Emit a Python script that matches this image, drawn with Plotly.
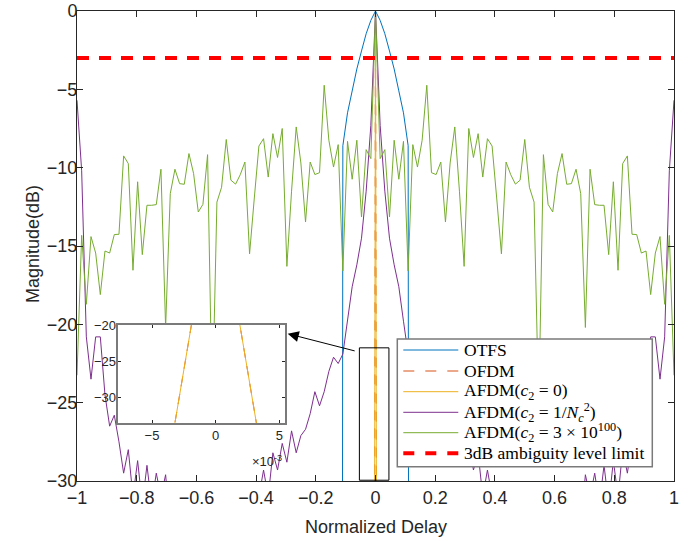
import plotly.graph_objects as go

# ---------------- data ----------------
delay_index = list(range(-64, 65))
N_HALF = 64
delay = [k / N_HALF for k in delay_index]

otfs_index = list(range(-8, 9))
otfs_db = [-300, -8.6, -6.5, -5.1, -3.7, -2.55, -1.45, -0.6, 0.0,
           -0.6, -1.45, -2.55, -3.7, -5.1, -6.5, -8.6, -300]

narrow_index = [-1, 0, 1]
ofdm_db = [-164.0, 0.0, -164.0]
afdm0_db = [-164.0, 0.0, -164.0]

afdm_nc_db = [
    -5.7, -10.2, -20.8, -23.5, -20.8, -20.8, -24.5, -26.5, -25.8, -27.5,
    -29.5, -28.0, -31.0, -28.7, -31.5, -29.0, -31.5, -29.5, -31.0, -29.6,
    -33.0, -35.0, -32.0, -34.0, -31.5, -33.0, -36.0, -33.0, -31.0, -34.0,
    -32.0, -35.0, -31.0, -33.0, -35.0, -31.5, -33.0, -32.0, -34.0, -31.0,
    -29.3, -31.0, -28.2, -29.3, -27.6, -28.8, -26.8, -28.2, -27.1, -26.7,
    -25.7, -24.3, -25.2, -24.3, -23.0, -22.1, -22.5, -21.9, -19.8, -17.6,
    -16.2, -14.5, -11.5, -7.3,
    0.0,
    -7.3, -11.5, -14.5, -16.2, -17.6, -19.8, -21.9, -22.5, -22.1, -23.0,
    -24.3, -25.2, -24.3, -25.7, -26.7, -27.1, -28.2, -26.8, -28.8, -27.6,
    -29.3, -28.2, -31.0, -29.3, -31.0, -34.0, -32.0, -33.0, -31.5, -35.0,
    -33.0, -31.0, -35.0, -32.0, -34.0, -31.0, -33.0, -36.0, -33.0, -31.5,
    -34.0, -32.0, -35.0, -33.0, -29.6, -31.0, -29.5, -31.5, -29.0, -31.5,
    -28.7, -31.0, -28.0, -29.5, -27.5, -25.8, -26.5, -24.5, -20.8, -20.8,
    -23.5, -20.8, -10.2, -5.7]

afdm_big_db = [
    -23.25, -14.32, -18.72, -14.4, -15.45, -18.1, -15.32, -15.45, -14.27, -14.25,
    -9.25, -9.74, -16.55, -10.9, -15.55, -12.4, -12.4, -12.36, -10.1, -20.2,
    -11.66, -10.1, -11.02, -11.06, -9.1, -10.38, -12.83, -12.34, -9.17, -25.5,
    -12.2, -11.25, -8.2, -10.8, -11.05, -10.45, -9.64, -15.5, -12.0, -8.62,
    -8.15, -10.6, -7.83, -9.35, -7.5, -16.3, -11.5, -7.4, -9.7, -13.47,
    -9.64, -10.44, -10.32, -4.74, -8.25, -9.96, -8.53, -16.59, -8.32, -10.74,
    -8.25, -13.15, -8.85, -9.42,
    0.0,
    -9.42, -8.85, -13.15, -8.25, -10.74, -8.32, -16.59, -8.53, -9.96, -8.25,
    -4.74, -10.32, -10.44, -9.64, -13.47, -9.7, -7.4, -11.5, -16.3, -7.5,
    -9.35, -7.83, -10.6, -8.15, -8.62, -12.0, -15.5, -9.64, -10.45, -11.05,
    -10.8, -8.2, -11.25, -12.2, -25.5, -9.17, -12.34, -12.83, -10.38, -9.1,
    -11.06, -11.02, -10.1, -11.66, -20.2, -10.1, -12.36, -12.4, -12.4, -15.55,
    -10.9, -16.55, -9.74, -9.25, -14.25, -14.27, -15.45, -15.32, -18.1, -15.45,
    -14.4, -18.72, -14.32, -23.25]

limit_x = [-1.0, 1.0]
limit_db = [-3.0, -3.0]

x_ticks = [-1, -0.8, -0.6, -0.4, -0.2, 0, 0.2, 0.4, 0.6, 0.8, 1]
x_tick_text = ["\u22121", "\u22120.8", "\u22120.6", "\u22120.4", "\u22120.2", "0",
               "0.2", "0.4", "0.6", "0.8", "1"]
y_ticks = [-30, -25, -20, -15, -10, -5, 0]
y_tick_text = ["\u221230", "\u221225", "\u221220", "\u221215", "\u221210", "\u22125", "0"]
inset_x_ticks = [-0.005, 0, 0.005]
inset_x_text = ["\u22125", "0", "5"]
inset_y_ticks = [-30, -25, -20]
inset_y_text = ["\u221230", "\u221225", "\u221220"]

legend_names = ["OTFS", "OFDM", "AFDM(<i>c</i><sub>2</sub> = 0)",
                "AFDM(<i>c</i><sub>2</sub> = 1/<i>N</i><sub><i>c</i></sub><sup>2</sup>)",
                "AFDM(<i>c</i><sub>2</sub> = 3 \u00d7 10<sup>100</sup>)",
                "3dB ambiguity level limit"]

C_OTFS = "#0072BD"
C_OFDM = "#D95319"
C_AF0 = "#EDB120"
C_AFN = "#7E2F8E"
C_AFB = "#77AC30"
C_LIM = "#FF0000"

# ---------------- geometry ----------------
W, H = 700, 541
# plot area in window pixels: x 77..674, y 11..481
ML, MT = 77, 11
MR = W - 674
MB = H - 481
PW, PH = W - ML - MR, H - MT - MB


def px2x(px):
    return (px - ML) / PW


def py2y(py):
    return (MT + PH - py) / PH


def scale(idx):
    return [k / N_HALF for k in idx]


fig = go.Figure()
fig.add_trace(go.Scatter(x=scale(otfs_index), y=otfs_db, mode="lines",
                         line=dict(color=C_OTFS, width=1)))
fig.add_trace(go.Scatter(x=scale(narrow_index), y=ofdm_db, mode="lines",
                         line=dict(color=C_OFDM, width=1, dash="10px,8px")))
fig.add_trace(go.Scatter(x=scale(narrow_index), y=afdm0_db, mode="lines",
                         line=dict(color=C_AF0, width=1)))
fig.add_trace(go.Scatter(x=delay, y=afdm_nc_db, mode="lines",
                         line=dict(color=C_AFN, width=1)))
fig.add_trace(go.Scatter(x=delay, y=afdm_big_db, mode="lines",
                         line=dict(color=C_AFB, width=1)))
fig.add_trace(go.Scatter(x=limit_x, y=limit_db, mode="lines",
                         line=dict(color=C_LIM, width=4, dash="12px,10px")))

# inset
fig.add_trace(go.Scatter(x=scale(narrow_index), y=ofdm_db, mode="lines",
                         xaxis="x2", yaxis="y2",
                         line=dict(color=C_OFDM, width=1, dash="10px,8px")))
fig.add_trace(go.Scatter(x=scale(narrow_index), y=afdm0_db, mode="lines",
                         xaxis="x2", yaxis="y2",
                         line=dict(color=C_AF0, width=1)))

axis_font = dict(family="Liberation Sans, Arial, sans-serif", size=18, color="#262626")
small_font = dict(family="Liberation Sans, Arial, sans-serif", size=13, color="#262626")

fig.update_layout(
    width=W, height=H, margin=dict(l=ML, r=MR, t=MT, b=MB, autoexpand=False),
    paper_bgcolor="white", plot_bgcolor="white", showlegend=False,
    xaxis=dict(range=[-1, 1], tickvals=x_ticks, ticktext=x_tick_text, ticks="inside",
               ticklen=6, tickcolor="#262626", showline=True, linecolor="#262626",
               linewidth=1, mirror="ticks", showgrid=False, zeroline=False,
               tickfont=axis_font, tickangle=0, automargin=False,
               ticklabeloverflow="allow"),
    yaxis=dict(range=[-30, 0], tickvals=y_ticks, ticktext=y_tick_text, ticks="inside",
               ticklen=6, tickcolor="#262626", showline=True, linecolor="#262626",
               linewidth=1, mirror="ticks", showgrid=False, zeroline=False,
               tickfont=axis_font, automargin=False, ticklabeloverflow="allow"),
    xaxis2=dict(domain=[px2x(118.3), px2x(285)], anchor="y2",
                range=[-0.00765, 0.00545], tickvals=inset_x_ticks, ticktext=inset_x_text,
                ticks="inside", ticklen=3, tickcolor="#262626", showline=True,
                linecolor="#7a7a7a", linewidth=1.5, mirror="ticks", showgrid=False,
                zeroline=False, tickfont=small_font, tickangle=0, automargin=False,
                ticklabeloverflow="allow"),
    yaxis2=dict(domain=[py2y(423), py2y(325)], anchor="x2",
                range=[-33.6, -20], tickvals=inset_y_ticks, ticktext=inset_y_text,
                ticks="inside", ticklen=3, tickcolor="#262626", showline=True,
                linecolor="#7a7a7a", linewidth=1.5, mirror="ticks", showgrid=False,
                zeroline=False, tickfont=small_font, automargin=False,
                ticklabeloverflow="allow"),
)
try:
    fig.update_layout(yaxis_ticklabelstandoff=-5, yaxis2_ticklabelstandoff=-2)
except Exception:
    pass

shapes = []
annotations = []

# zoom rectangle around the main lobe
shapes.append(dict(type="rect", xref="x", yref="y", x0=-0.054, x1=0.045,
                   y0=-29.95, y1=-21.5, line=dict(color="black", width=1),
                   fillcolor="rgba(0,0,0,0)", layer="above"))
# arrow
annotations.append(dict(xref="x", yref="y", axref="x", ayref="y",
                        x=-0.294, y=-20.6, ax=-0.0648, ay=-21.72, text="",
                        showarrow=True, arrowhead=2, arrowsize=2.2, arrowwidth=1,
                        arrowcolor="black", standoff=0, startstandoff=0))

# legend box
LX0, LX1, LY0, LY1 = 397.3, 652.3, 339, 466.7
shapes.append(dict(type="rect", xref="paper", yref="paper",
                   x0=px2x(LX0), x1=px2x(LX1), y0=py2y(LY1), y1=py2y(LY0),
                   line=dict(color="#7a7a7a", width=1.5), fillcolor="white",
                   layer="above"))
row_py = [350, 371, 391.7, 412.3, 432.7, 453.3]
styles = [dict(color=C_OTFS, width=1), dict(color=C_OFDM, width=1.2, dash="11px,11px"),
          dict(color=C_AF0, width=1), dict(color=C_AFN, width=1),
          dict(color=C_AFB, width=1), dict(color=C_LIM, width=4, dash="11px,11px")]
serif = dict(family="Liberation Serif, Times New Roman, serif", size=17.5, color="black")
for name, st, py in zip(legend_names, styles, row_py):
    shapes.append(dict(type="line", xref="paper", yref="paper",
                       x0=px2x(403.3), x1=px2x(458.3), y0=py2y(py), y1=py2y(py),
                       line=st, layer="above"))
    annotations.append(dict(xref="paper", yref="paper", x=px2x(462.0), y=py2y(py),
                            xanchor="left", yanchor="middle", text=name,
                            showarrow=False, font=serif))

# axis titles
annotations.append(dict(xref="paper", yref="paper", x=px2x(376), y=py2y(527),
                        xanchor="center", yanchor="middle", text="Normalized Delay",
                        showarrow=False, font=axis_font))
annotations.append(dict(xref="paper", yref="paper", x=px2x(33), y=py2y(244),
                        xanchor="center", yanchor="middle", text="Magnitude(dB)",
                        textangle=-90, showarrow=False, font=axis_font))
# inset exponent
annotations.append(dict(xref="paper", yref="paper", x=px2x(284), y=py2y(461),
                        xanchor="right", yanchor="middle",
                        text="\u00d710<sup>-3</sup>", showarrow=False, font=small_font))

fig.update_layout(shapes=shapes, annotations=annotations)
fig.write_html("out.html",
               config={"displayModeBar": False},
               post_script="document.body.style.margin='0';"
                           "document.documentElement.style.overflow='hidden';")
